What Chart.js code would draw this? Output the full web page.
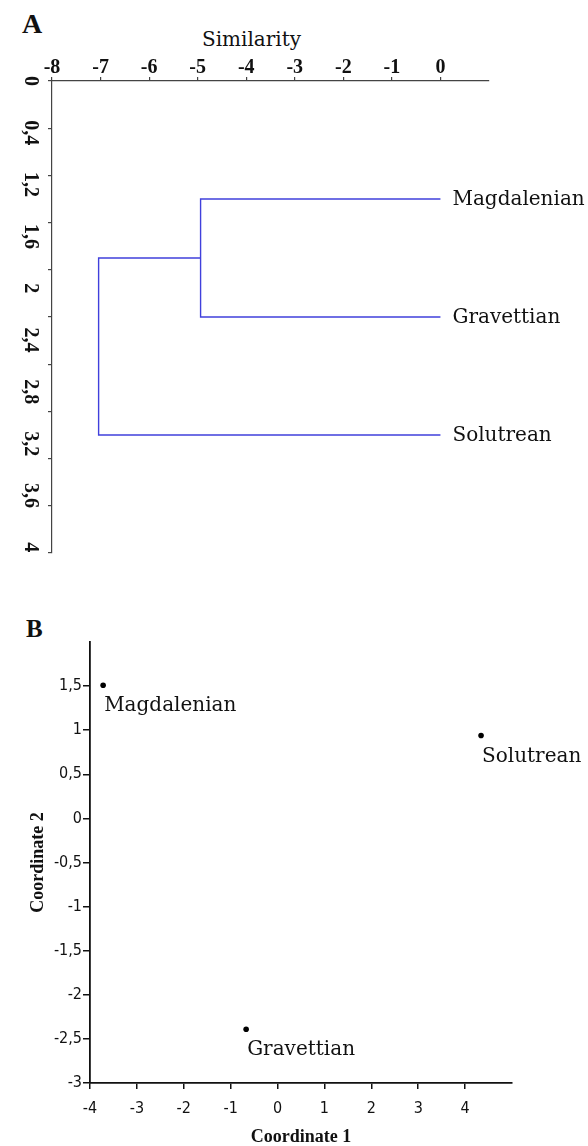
<!DOCTYPE html>
<html><head><meta charset="utf-8">
<script src="https://cdn.jsdelivr.net/npm/chart.js@4.4.0/dist/chart.umd.min.js"></script>
<style>
html,body{margin:0;padding:0;background:#fff;width:588px;height:1146px;overflow:hidden;position:relative}
#ca{position:absolute;left:0;top:0}
#cb{position:absolute;left:0;top:590px}
.t{position:absolute;white-space:nowrap;color:#111}
</style></head><body>
<div class="t" style="left:22px;top:10px;font:bold 28px/28px 'Liberation Serif',serif">A</div>
<div class="t" style="left:202px;top:29px;font:20px/20px 'DejaVu Serif',serif">Similarity</div>
<div class="t" style="left:26px;top:616px;font:bold 25px/25px 'Liberation Serif',serif">B</div>
<canvas id="ca" width="588" height="575"></canvas>
<canvas id="cb" width="588" height="556"></canvas>
<script>
// ---------- Panel A: dendrogram ----------
const leafNames = ['Magdalenian', 'Gravettian', 'Solutrean'];
const leafPositions = [1, 2, 3];
const mergeSimilarity = [-4.94, -7.04]; // Magdalenian+Gravettian, then +Solutrean
const similarityTicks = [-8, -7, -6, -5, -4, -3, -2, -1, 0];
const depthTickLabels = ['0', '0,4', '1,2', '1,6', '2', '2,4', '2,8', '3,2', '3,6', '4'];

// ---------- Panel B: PCoA scatter ----------
const periodNames = ['Magdalenian', 'Gravettian', 'Solutrean'];
const coordinate1 = [-3.72, -0.67, 4.34];
const coordinate2 = [1.51, -2.39, 0.94];
const coord1Ticks = [-4, -3, -2, -1, 0, 1, 2, 3, 4];
const coord2Ticks = [-3, -2.5, -2, -1.5, -1, -0.5, 0, 0.5, 1, 1.5];

const BLUE = '#4040dc';
const REG = "'DejaVu Serif', serif";
const BOLD = "'Liberation Serif', serif";
const NARROW = "'Liberation Sans Narrow', 'DejaVu Sans Condensed', sans-serif";

const mid = (leafPositions[0] + leafPositions[1]) / 2;
const clusterA = [
  {x: 0, y: leafPositions[0]}, {x: mergeSimilarity[0], y: leafPositions[0]},
  {x: mergeSimilarity[0], y: leafPositions[1]}, {x: 0, y: leafPositions[1]}
];
const clusterB = [
  {x: mergeSimilarity[0], y: mid}, {x: mergeSimilarity[1], y: mid},
  {x: mergeSimilarity[1], y: leafPositions[2]}, {x: 0, y: leafPositions[2]}
];

const leafLabelPlugin = {
  id: 'leafLabels',
  afterDatasetsDraw(chart) {
    const {ctx, scales: {x, y}} = chart;
    ctx.save();
    ctx.font = '20px ' + REG;
    ctx.fillStyle = '#111';
    ctx.textAlign = 'left';
    ctx.textBaseline = 'middle';
    leafNames.forEach((n, i) => {
      ctx.fillText(n, x.getPixelForValue(0) + 12, y.getPixelForValue(leafPositions[i]) + 1);
    });
    ctx.restore();
  }
};

new Chart(document.getElementById('ca'), {
  type: 'scatter',
  data: {
    datasets: [
      {data: clusterA, showLine: true, borderColor: BLUE, borderWidth: 1.4, pointRadius: 0, tension: 0, fill: false},
      {data: clusterB, showLine: true, borderColor: BLUE, borderWidth: 1.4, pointRadius: 0, tension: 0, fill: false}
    ]
  },
  options: {
    responsive: false, animation: false,
    layout: {padding: {left: 0, top: 0, right: 99, bottom: 22}},
    plugins: {legend: {display: false}, tooltip: {enabled: false}},
    scales: {
      x: {
        type: 'linear', position: 'top', min: -8, max: 1,
        afterBuildTicks: s => { s.ticks = similarityTicks.map(v => ({value: v})); },
        afterFit: s => { s.height = 81; },
        ticks: {font: {family: BOLD, size: 20, weight: 'bold'}, color: '#111', padding: -3, maxRotation: 0, autoSkip: false,
          callback: v => String(v)},
        grid: {drawOnChartArea: false, drawTicks: true, tickLength: 4, color: '#444', lineWidth: 1.2},
        border: {display: true, color: '#444', width: 1.2}
      },
      y: {
        type: 'linear', position: 'left', reverse: true, min: 0, max: 4, weight: 0,
        ticks: {display: false, stepSize: 0.4},
        afterFit: s => { s.width = 9; },
        grid: {drawOnChartArea: false, drawTicks: true, tickLength: 4, color: '#444', lineWidth: 1.2},
        border: {display: true, color: '#444', width: 1.2}
      },
      yl: {
        type: 'linear', position: 'left', reverse: true, min: 0, max: 9.11, weight: 1,
        afterBuildTicks: s => { s.ticks = depthTickLabels.map((_, i) => ({value: i})); },
        afterFit: s => { s.width = 43; },
        ticks: {font: {family: BOLD, size: 20, weight: 'bold'}, color: '#111', padding: 0, autoSkip: false,
          minRotation: -90, maxRotation: -90, crossAlign: 'center',
          callback: (v, i) => depthTickLabels[i]},
        grid: {display: false, drawTicks: false, drawOnChartArea: false},
        border: {display: false}
      }
    }
  },
  plugins: [leafLabelPlugin]
});

const pointLabelPlugin = {
  id: 'pointLabels',
  afterDatasetsDraw(chart) {
    const {ctx, scales: {x, y}} = chart;
    ctx.save();
    ctx.font = '20px ' + REG;
    ctx.fillStyle = '#111';
    ctx.textAlign = 'left';
    ctx.textBaseline = 'middle';
    periodNames.forEach((n, i) => {
      ctx.fillText(n, x.getPixelForValue(coordinate1[i]) + 1, y.getPixelForValue(coordinate2[i]) + 21);
    });
    ctx.restore();
  }
};

const fmt = v => String(v).replace('.', ',');

new Chart(document.getElementById('cb'), {
  type: 'scatter',
  data: {
    datasets: [{
      data: coordinate1.map((c, i) => ({x: c, y: coordinate2[i]})),
      pointRadius: 2.8, pointBackgroundColor: '#000', pointBorderWidth: 0
    }]
  },
  options: {
    responsive: false, animation: false,
    layout: {padding: {left: 0, top: 52, right: 76, bottom: 0}},
    plugins: {legend: {display: false}, tooltip: {enabled: false}},
    scales: {
      x: {
        type: 'linear', position: 'bottom', min: -4, max: 5,
        afterBuildTicks: s => { s.ticks = coord1Ticks.map(v => ({value: v})); },
        afterFit: s => { s.height = 63; },
        ticks: {font: {family: NARROW, size: 16}, color: '#111', padding: 10, maxRotation: 0, autoSkip: false, callback: v => fmt(v)},
        grid: {drawOnChartArea: false, drawTicks: true, tickLength: 6, color: '#111', lineWidth: 1.5},
        border: {display: true, color: '#111', width: 1.8},
        title: {display: true, text: 'Coordinate 1', font: {family: BOLD, size: 18, weight: 'bold'}, color: '#111', padding: {top: 0, bottom: -2}}
      },
      y: {
        type: 'linear', position: 'left', min: -3, max: 2,
        afterBuildTicks: s => { s.ticks = coord2Ticks.map(v => ({value: v})); },
        afterFit: s => { s.width = 90; },
        ticks: {font: {family: NARROW, size: 16}, color: '#111', padding: 1, autoSkip: false, callback: v => fmt(v)},
        grid: {drawOnChartArea: false, drawTicks: true, tickLength: 7, color: '#111', lineWidth: 1.5},
        border: {display: true, color: '#111', width: 1.8},
        title: {display: true, text: 'Coordinate 2', font: {family: BOLD, size: 18, weight: 'bold'}, color: '#111', padding: {top: 28, bottom: 0}}
      }
    }
  },
  plugins: [pointLabelPlugin]
});
</script>
</body></html>
